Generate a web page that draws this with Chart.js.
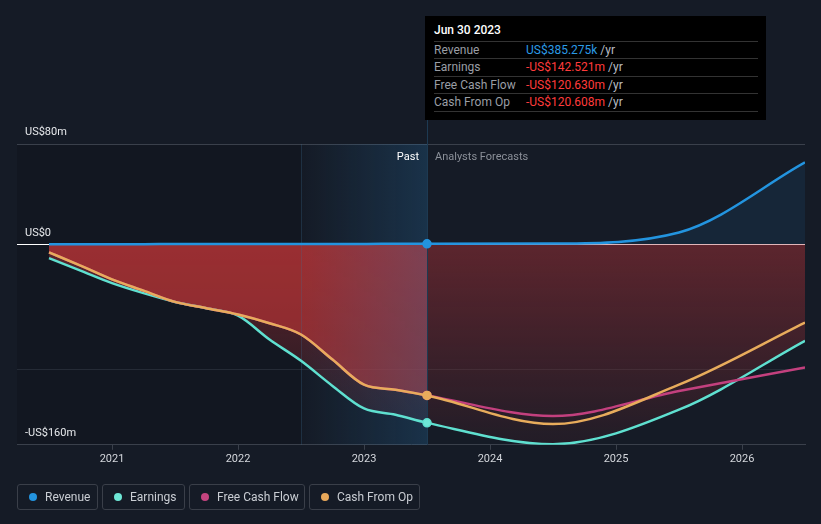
<!DOCTYPE html>
<html>
<head>
<meta charset="utf-8">
<script src="https://cdn.jsdelivr.net/npm/chart.js@4.4.0/dist/chart.umd.min.js"></script>
<style>
  html, body { margin: 0; padding: 0; background: #151b26; }
  #wrap { position: relative; width: 821px; height: 524px; font-family: Roboto, "Noto Sans", sans-serif; overflow: hidden; }
  #c { position: absolute; left: 0; top: 0; }
  .tip { position: absolute; left: 425px; top: 16px; width: 341px; height: 104px; background: #000; }
  .tip .date { position: absolute; left: 9px; top: 7px; font-size: 12px; color: #fff; font-weight: 500; }
  .tip .row { position: absolute; left: 9px; width: 324px; height: 17px; border-top: 1px solid #333; font-size: 12px; line-height: 17px; color: #9a9ea5; }
  .tip .row.last { border-bottom: 1px solid #333; }
  .tip .val { position: absolute; left: 92px; top: 0; }
  .tip .unit { color: #b8bcc2; }
  .blue { color: #2b9be6; }
  .red { color: #ff3b3b; }
  .legend { position: absolute; top: 484px; height: 26px; border: 1px solid #3a3f49; border-radius: 3px; box-sizing: border-box; font-size: 12px; color: #c9cdd3; line-height: 24px; }
  .legend i { position: absolute; left: 11px; top: 8px; width: 8px; height: 8px; border-radius: 50%; }
  .legend span { position: absolute; left: 27px; top: 0; white-space: nowrap; }
</style>
</head>
<body>
<div id="wrap">
  <canvas id="c" width="821" height="524"></canvas>
  <div class="tip">
    <div class="date">Jun 30 2023</div>
    <div class="row" style="top:25px">Revenue<span class="val"><span class="blue">US$385.275k</span> <span class="unit">/yr</span></span></div>
    <div class="row" style="top:42px">Earnings<span class="val"><span class="red">-US$142.521m</span> <span class="unit">/yr</span></span></div>
    <div class="row" style="top:60px">Free Cash Flow<span class="val"><span class="red">-US$120.630m</span> <span class="unit">/yr</span></span></div>
    <div class="row last" style="top:77px">Cash From Op<span class="val"><span class="red">-US$120.608m</span> <span class="unit">/yr</span></span></div>
  </div>
  <div class="legend" style="left:17px;width:81px"><i style="background:#2394df"></i><span>Revenue</span></div>
  <div class="legend" style="left:102px;width:83px"><i style="background:#6ee7d6"></i><span>Earnings</span></div>
  <div class="legend" style="left:189px;width:116px"><i style="background:#c4447f"></i><span>Free Cash Flow</span></div>
  <div class="legend" style="left:309px;width:111px"><i style="background:#e8a85a"></i><span>Cash From Op</span></div>
</div>
<script>
// periods as fractional years (quarterly history, then annual forecasts)
const periods = [2020.5, 2020.75, 2021, 2021.25, 2021.5, 2021.75, 2022, 2022.25, 2022.5, 2022.75, 2023, 2023.25, 2023.5, 2024.5, 2025.5, 2026.5];
// values in US$ millions
const revenue = [0.1, 0.1, 0.1, 0.1, 0.15, 0.15, 0.2, 0.2, 0.25, 0.3, 0.3, 0.35, 0.385, 0.6, 9.4, 65.3];
const earnings = [-11, -21, -31, -39, -46, -51, -57, -76, -93, -113, -131, -136, -142.5, -159.5, -132, -77];
const freeCashFlow = [-6.5, -17, -28, -37, -46, -51, -56, -63, -72, -92, -112, -116, -120.6, -137, -117, -98.3];
const cashFromOp = [-6.5, -17, -28, -37, -46, -51, -56, -63, -72, -92, -112, -116, -120.6, -143.5, -112, -62.5];

const yearTicks = [2021, 2022, 2023, 2024, 2025, 2026];
const yTicks = [80, 0, -160];
const yLabels = ['US$80m', 'US$0', '-US$160m'];
const gridValues = [80, 0, -100, -160];

const presentYear = 2023.5;
const bandStart = 2022.5;

function pts(arr) {
    return arr.map((v, i) => ({ x: periods[i], y: v }));
}

function dotAtPresent(ctx) {
    return periods[ctx.dataIndex] === presentYear ? 4 : 0;
}

function earningsFill(ctx) {
    const chart = ctx.chart;
    if (!chart.chartArea) return 'rgba(180,50,55,0.3)';
    const y = chart.scales.y;
    const g = chart.ctx.createLinearGradient(0, y.getPixelForValue(0), 0, y.getPixelForValue(-160));
    g.addColorStop(0, 'rgba(180,50,55,0.45)');
    g.addColorStop(1, 'rgba(180,50,55,0.08)');
    return g;
}

// bands, present line and labels
const decor = {
    id: 'decor',
    beforeDraw(chart) {
        const { ctx, chartArea: a, scales: { x } } = chart;
        ctx.save();
        ctx.fillStyle = 'rgba(0,0,0,0.12)';
        ctx.fillRect(a.left, a.top, x.getPixelForValue(bandStart) - a.left, a.bottom - a.top);
        ctx.restore();
    },
    beforeDatasetsDraw(chart) {
        const { ctx, chartArea: a, scales: { x } } = chart;
        const x0 = x.getPixelForValue(bandStart);
        const x1 = x.getPixelForValue(presentYear);
        ctx.save();
        const g = ctx.createLinearGradient(x0, 0, x1, 0);
        g.addColorStop(0, 'rgba(40,120,180,0)');
        g.addColorStop(1, 'rgba(40,120,180,0.25)');
        ctx.fillStyle = g;
        ctx.fillRect(x0, a.top, x1 - x0, a.bottom - a.top);
        ctx.strokeStyle = 'rgba(60,110,150,0.25)';
        ctx.lineWidth = 1;
        ctx.beginPath();
        ctx.moveTo(Math.round(x0) + 0.5, a.top);
        ctx.lineTo(Math.round(x0) + 0.5, a.bottom);
        ctx.stroke();
        ctx.strokeStyle = '#1d3a52';
        ctx.beginPath();
        ctx.moveTo(Math.round(x1) + 0.5, 120);
        ctx.lineTo(Math.round(x1) + 0.5, a.bottom);
        ctx.stroke();
        ctx.restore();
    },
    afterDatasetsDraw(chart) {
        const { ctx, chartArea: a, scales: { x, y } } = chart;
        ctx.save();
        ctx.font = '11px Roboto, sans-serif';
        ctx.textBaseline = 'middle';
        ctx.fillStyle = '#e6e8eb';
        ctx.textAlign = 'left';
        yTicks.forEach((v, i) => {
            ctx.fillText(yLabels[i], a.left + 8, y.getPixelForValue(v) - 11.5);
        });
        const px = x.getPixelForValue(presentYear);
        ctx.textAlign = 'right';
        ctx.fillStyle = '#ffffff';
        ctx.fillText('Past', px - 8, a.top + 13);
        ctx.textAlign = 'left';
        ctx.fillStyle = '#8b9099';
        ctx.fillText('Analysts Forecasts', px + 8, a.top + 13);
        ctx.restore();
    }
};

new Chart(document.getElementById('c'), {
    type: 'line',
    data: {
        datasets: [
            {
                label: 'Revenue',
                data: pts(revenue),
                borderColor: '#2394df',
                pointBackgroundColor: '#2394df',
                fill: { target: 'origin', above: 'rgba(40,140,220,0.1)' },
            },
            {
                label: 'Cash From Op',
                data: pts(cashFromOp),
                borderColor: '#e8ac5c',
                pointBackgroundColor: '#e8ac5c',
                backgroundColor: 'rgba(200,55,55,0.58)',
                fill: 'origin',
                segment: {
                    backgroundColor: ctx => ctx.p0.parsed.x >= presentYear ? 'rgba(0,0,0,0)' : 'rgba(200,55,55,0.58)'
                }
            },
            {
                label: 'Free Cash Flow',
                data: pts(freeCashFlow),
                borderColor: '#c3407e',
                pointBackgroundColor: '#c3407e',
                fill: false
            },
            {
                label: 'Earnings',
                data: pts(earnings),
                borderColor: '#5fe0d0',
                pointBackgroundColor: '#6ee7d6',
                backgroundColor: earningsFill,
                fill: 'origin'
            }
        ]
    },
    options: {
        responsive: false,
        animation: false,
        elements: {
            line: { borderWidth: 2.5, cubicInterpolationMode: 'monotone' },
            point: { radius: dotAtPresent, hoverRadius: 0, borderColor: '#ffffff', borderWidth: 1.5 }
        },
        layout: { padding: { left: 17, right: 16, top: 144, bottom: 55 } },
        plugins: {
            legend: { display: false },
            tooltip: { enabled: false },
            filler: { drawTime: 'beforeDatasetsDraw' }
        },
        scales: {
            x: {
                type: 'linear',
                min: 2020.246,
                max: 2026.5,
                afterBuildTicks: axis => { axis.ticks = yearTicks.map(v => ({ value: v })); },
                ticks: {
                    color: '#d4d7dc',
                    font: { family: 'Roboto', size: 11 },
                    padding: 3,
                    maxRotation: 0,
                    autoSkip: false,
                    callback: v => String(v)
                },
                grid: { drawOnChartArea: false, color: '#3a404b', tickLength: 5 },
                border: { color: '#3a404b' }
            },
            y: {
                min: -160,
                max: 80,
                afterBuildTicks: axis => { axis.ticks = gridValues.map(v => ({ value: v })); },
                ticks: { display: false },
                grid: {
                    drawTicks: false,
                    color: ctx => {
                        const v = ctx.tick && ctx.tick.value;
                        if (v === 0) return '#ffffff';
                        if (v === 80) return '#3a404b';
                        if (v === -100) return '#252b36';
                        return 'rgba(0,0,0,0)';
                    }
                },
                border: { display: false }
            }
        }
    },
    plugins: [decor]
});
</script>
</body>
</html>
